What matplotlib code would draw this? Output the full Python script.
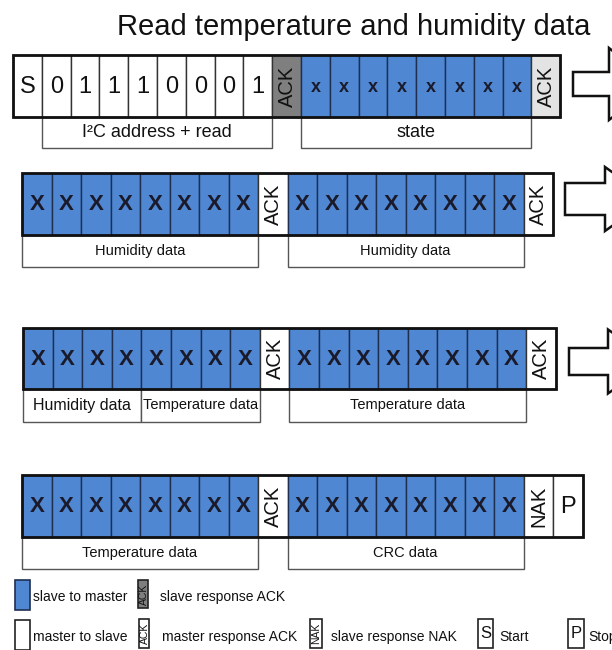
import matplotlib
matplotlib.use("Agg")
import matplotlib.pyplot as plt
from matplotlib.patches import Rectangle, Polygon

plt.rcParams['font.family'] = ['Liberation Sans', 'DejaVu Sans']

TITLE = "Read temperature and humidity data"

# Row contents: (text, kind)  kind: w=white bit, b=blue data, g=gray slave ACK, lg=light gray ACK, wa=white vertical ACK/NAK
row1_cells = [("S", "w"), ("0", "w"), ("1", "w"), ("1", "w"), ("1", "w"), ("0", "w"),
              ("0", "w"), ("0", "w"), ("1", "w"), ("ACK", "g")] + [("x", "b")] * 8 + [("ACK", "lg")]
row2_cells = [("X", "b")] * 8 + [("ACK", "wa")] + [("X", "b")] * 8 + [("ACK", "wa")]
row3_cells = [("X", "b")] * 8 + [("ACK", "wa")] + [("X", "b")] * 8 + [("ACK", "wa")]
row4_cells = [("X", "b")] * 8 + [("ACK", "wa")] + [("X", "b")] * 8 + [("NAK", "wa"), ("P", "w")]

row1_labels = [("I²C address + read", 1, 9), ("state", 10, 18)]
row2_labels = [("Humidity data", 0, 8), ("Humidity data", 9, 17)]
row3_labels = [("Humidity data", 0, 4), ("Temperature data", 4, 8), ("Temperature data", 9, 17)]
row4_labels = [("Temperature data", 0, 8), ("CRC data", 9, 17)]

legend_items = [("slave to master", "b", ""), ("slave response ACK", "g", "ACK"),
                ("master to slave", "w", ""), ("master response ACK", "wa", "ACK"),
                ("slave response NAK", "wa", "NAK"), ("Start", "w", "S"), ("Stop", "w", "P")]

BLUE = "#4f87d3"
GRAY = "#7f7f7f"
LGRAY = "#e3e3e3"
fill = {"w": "white", "b": BLUE, "g": GRAY, "lg": LGRAY, "wa": "white"}

fig = plt.figure(figsize=(6.12, 6.5), dpi=100)
ax = fig.add_axes([0, 0, 1, 1])
ax.set_xlim(0, 612)
ax.set_ylim(650, 0)
ax.axis("off")

ax.text(354, 27, TITLE, ha="center", va="center", fontsize=21, color="#111111")


def draw_row(cells, x0, y0, w, h, labels, lab_h, xfs, xweight, lab_fs):
    n = len(cells)
    for i, (t, k) in enumerate(cells):
        x = x0 + i * w
        ec = "#1f2f4f" if k == "b" else "#333333"
        ax.add_patch(Rectangle((x, y0), w, h, facecolor=fill[k], edgecolor=ec, lw=1.0))
        if t in ("ACK", "NAK"):
            ax.text(x + w / 2 + 0.5, y0 + h / 2, t, rotation=90, ha="center", va="center",
                    fontsize=14.5, color="#111111")
        elif k == "b":
            ax.text(x + w / 2, y0 + h / 2 + 1, t, ha="center", va="center",
                    fontsize=xfs, color="#1a1a2a", fontweight=xweight)
        else:
            ax.text(x + w / 2, y0 + h / 2 + 1, t, ha="center", va="center",
                    fontsize=17, color="#111111")
    ax.add_patch(Rectangle((x0, y0), n * w, h, facecolor="none", edgecolor="#111111", lw=2.0))
    for (t, a, b), fs in zip(labels, lab_fs):
        xa, xb = x0 + a * w, x0 + b * w
        ax.add_patch(Rectangle((xa, y0 + h), xb - xa, lab_h, facecolor="white",
                               edgecolor="#555555", lw=1.0, zorder=0.5))
        ax.text((xa + xb) / 2, y0 + h + lab_h / 2, t, ha="center", va="center",
                fontsize=fs, color="#111111")


def draw_arrow(xl, yt, yb, xh, hh):
    ym = (yt + yb) / 2
    pts = [(xl, yt), (xh, yt), (xh, ym - hh), (xh + 45, ym), (xh, ym + hh), (xh, yb), (xl, yb)]
    ax.add_patch(Polygon(pts, closed=True, facecolor="white", edgecolor="#111111", lw=1.8))


draw_row(row1_cells, 13, 55, 28.8, 62, row1_labels, 31, 13, "bold", [13, 13])
draw_row(row2_cells, 22, 173, 29.5, 62, row2_labels, 32, 16, "bold", [10.5, 10.5])
draw_row(row3_cells, 23, 328, 29.6, 61, row3_labels, 33, 16, "bold", [11.5, 10.5, 10.5])
draw_row(row4_cells, 22, 475, 29.5, 62, row4_labels, 32, 16, "bold", [10.5, 10.5])

draw_arrow(573, 72, 96, 609, 36)
draw_arrow(565, 183, 215, 605, 32)
draw_arrow(569, 348, 375, 608, 32)

# Legend
leg_pos = [(15, 580, 15, 30, 33, 597), (138, 580, 10, 28, 160, 597),
           (15, 620, 15, 30, 33, 637), (139, 619, 10, 29, 162, 637),
           (310, 619, 12, 29, 331, 637), (478, 619, 15, 29, 499, 637),
           (568, 619, 16, 29, 588, 637)]
for (lab, k, t), (x, y, w, h, tx, ty) in zip(legend_items, leg_pos):
    ec = "#1f2f4f" if k == "b" else "#222222"
    ax.add_patch(Rectangle((x, y), w, h, facecolor=fill[k], edgecolor=ec, lw=1.2))
    if t in ("ACK", "NAK"):
        ax.text(x + w / 2 + 0.5, y + h / 2, t, rotation=90, ha="center", va="center",
                fontsize=7.5, color="#111111")
    elif t:
        ax.text(x + w / 2, y + h / 2, t, ha="center", va="center", fontsize=12, color="#111111")
    ax.text(tx, ty, lab, ha="left", va="center", fontsize=10, color="#111111")

fig.savefig("out.png", dpi=100)
